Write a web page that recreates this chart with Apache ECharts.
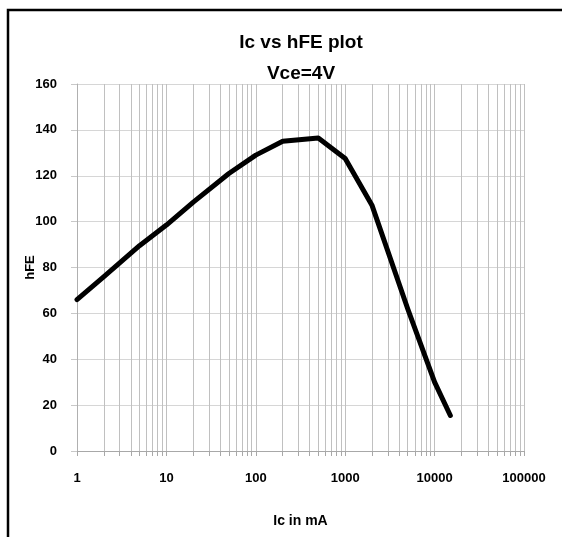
<!DOCTYPE html>
<html>
<head>
<meta charset="utf-8">
<script src="https://cdn.jsdelivr.net/npm/echarts@6/dist/echarts.min.js"></script>
<style>
html,body{margin:0;padding:0;background:#fff;}
#chart{width:562px;height:537px;}
</style>
</head>
<body>
<div id="chart"></div>
<script>
const icValues = [1, 2, 5, 10, 20, 50, 100, 200, 500, 1000, 2000, 5000, 10000, 15000];
const hfeValues = [66, 76, 89.5, 98.5, 108.5, 121, 129, 135, 136.5, 127.5, 107, 62, 30, 15.5];
const xTickValues = [];
[1, 10, 100, 1000, 10000].forEach(function (d) {
  for (let k = 1; k <= 9; k++) xTickValues.push(d * k);
});
xTickValues.push(100000);
const xLabelValues = [1, 10, 100, 1000, 10000, 100000];
const titleText = 'Ic vs hFE plot';
const subtitleText = 'Vce=4V';
const xName = 'Ic in mA';
const yName = 'hFE';

const FONT = '"Liberation Sans", Arial, sans-serif';
const chart = echarts.init(document.getElementById('chart'), null, {renderer: 'canvas'});
chart.setOption({
  animation: false,
  backgroundColor: '#fff',
  graphic: [{
    type: 'rect',
    shape: {x: 8, y: 10, width: 700, height: 700},
    style: {fill: 'none', stroke: '#000', lineWidth: 2.5},
    silent: true
  }, {
    type: 'text', x: 301, y: 42.5,
    style: {text: titleText, align: 'center', verticalAlign: 'middle', fill: '#000',
      font: 'bold 19px ' + FONT},
    silent: true
  }, {
    type: 'text', x: 301, y: 74,
    style: {text: subtitleText, align: 'center', verticalAlign: 'middle', fill: '#000',
      font: 'bold 19px ' + FONT},
    silent: true
  }],
  grid: {left: 77, right: 38, top: 84, bottom: 86, containLabel: false},
  xAxis: {
    type: 'log', logBase: 10, min: 1, max: 100000,
    name: xName, nameLocation: 'middle', nameGap: 63, nameMoveOverlap: false,
    nameTextStyle: {fontFamily: FONT, fontWeight: 'bold', fontSize: 14, color: '#000'},
    axisLine: {show: true, lineStyle: {color: '#a8a8a8', width: 1}},
    axisTick: {show: true, customValues: xTickValues, length: 5, lineStyle: {color: '#a8a8a8'}},
    axisLabel: {customValues: xLabelValues, margin: 21, fontFamily: FONT, fontWeight: 'bold', fontSize: 13, color: '#000',
      formatter: function (v) { return String(v); }},
    splitLine: {show: true, lineStyle: {color: '#c0c0c0', width: 1}}
  },
  yAxis: {
    type: 'value', min: 0, max: 160, interval: 20,
    name: yName, nameLocation: 'middle', nameGap: 40, nameRotate: 90, nameMoveOverlap: false,
    nameTextStyle: {fontFamily: FONT, fontWeight: 'bold', fontSize: 13, color: '#000'},
    axisLine: {show: true, lineStyle: {color: '#b0b0b0', width: 1}},
    axisTick: {show: true, length: 6, lineStyle: {color: '#c8c8c8'}},
    axisLabel: {margin: 20, fontFamily: FONT, fontWeight: 'bold', fontSize: 13, color: '#000'},
    splitLine: {show: true, lineStyle: {color: '#d6d6d6', width: 1}}
  },
  series: [{
    type: 'line',
    data: icValues.map(function (x, i) { return [x, hfeValues[i]]; }),
    showSymbol: false,
    symbol: 'none',
    lineStyle: {color: '#000', width: 5, cap: 'round', join: 'round'},
    smooth: false
  }]
});
</script>
</body>
</html>
